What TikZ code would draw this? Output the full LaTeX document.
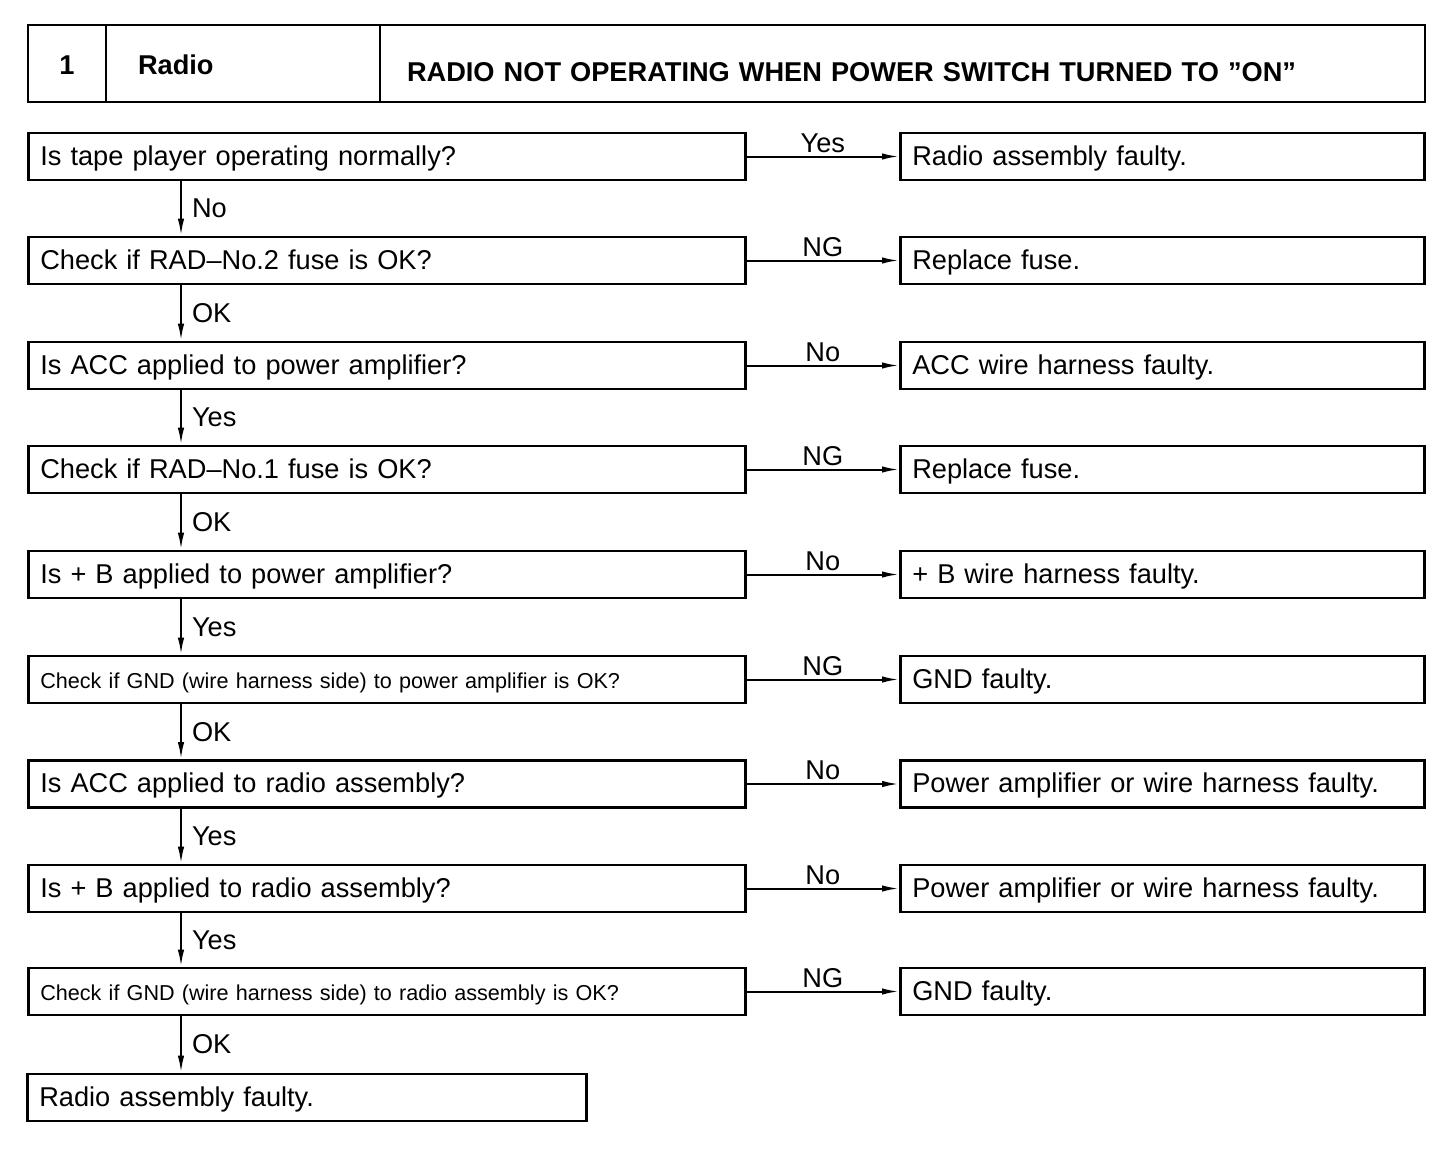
\documentclass[tikz,border=0pt]{standalone}
\usepackage{fontspec}
\setmainfont{Liberation Sans}
\usetikzlibrary{arrows.meta,positioning}
\tikzset{
  >={Latex[length=8.5pt,width=3.2pt]},
  every picture/.style={line width=1pt},
  txt/.style={font=\fontsize{13.6}{16}\selectfont},
  sml/.style={font=\fontsize{10.8}{13}\selectfont},
  bx/.style={draw,line width=1.3pt,minimum height=23.5pt,inner ysep=0pt,inner xsep=6pt,
    text height=11pt,text depth=2.5pt,anchor=west,align=left,txt},
  qbx/.style={bx,text width=346.5pt},
  rbx/.style={bx,text width=250pt},
  hcell/.style={draw,line width=1.3pt,outer sep=0pt,minimum height=38.5pt,inner ysep=0pt,
    font=\fontsize{13.6}{16}\selectfont\bfseries},
  lab/.style={txt,inner sep=1.5pt},
  vlab/.style={lab,inner xsep=5pt},
}

\begin{document}
\begin{tikzpicture}[x=0.5pt,y=-0.5pt]
  \useasboundingbox (0,0) rectangle (1456,1156);
  % title bar
  \node[hcell,anchor=west,minimum width=39pt,align=center,text height=12pt,text depth=0.5pt] (hnum) at (28,63.5) {1};
  \node[hcell,right=0pt of hnum,inner xsep=16pt,text width=105pt,align=left,text height=12pt,text depth=0.5pt] (hname) {Radio};
  \node[hcell,right=0pt of hname,inner xsep=13.5pt,text width=495.5pt,align=left,text height=19pt,text depth=0.5pt] (htitle) {RADIO NOT OPERATING WHEN POWER SWITCH TURNED TO ”ON”};
  % checks
  \node[qbx] (q1) at (27,156.5) {Is tape player operating normally?};
  \node[qbx] (q2) at (27,260.5) {Check if RAD--No.2 fuse is OK?};
  \node[qbx] (q3) at (27,365.5) {Is ACC applied to power amplifier?};
  \node[qbx] (q4) at (27,469.5) {Check if RAD--No.1 fuse is OK?};
  \node[qbx] (q5) at (27,574.5) {Is + B applied to power amplifier?};
  \node[qbx,sml] (q6) at (27,679.5) {Check if GND (wire harness side) to power amplifier is OK?};
  \node[qbx] (q7) at (27,784) {Is ACC applied to radio assembly?};
  \node[qbx] (q8) at (27,888.5) {Is + B applied to radio assembly?};
  \node[qbx,sml] (q9) at (27,991.5) {Check if GND (wire harness side) to radio assembly is OK?};
  \node[bx,text width=267.5pt] (fin) at (26,1097.5) {Radio assembly faulty.};
  % results
  \node[rbx] (r1) at (899,156.5) {Radio assembly faulty.};
  \node[rbx] (r2) at (899,260.5) {Replace fuse.};
  \node[rbx] (r3) at (899,365.5) {ACC wire harness faulty.};
  \node[rbx] (r4) at (899,469.5) {Replace fuse.};
  \node[rbx] (r5) at (899,574.5) {+ B wire harness faulty.};
  \node[rbx] (r6) at (899,679.5) {GND faulty.};
  \node[rbx] (r7) at (899,784) {Power amplifier or wire harness faulty.};
  \node[rbx] (r8) at (899,888.5) {Power amplifier or wire harness faulty.};
  \node[rbx] (r9) at (899,991.5) {GND faulty.};
  % connectors
  \coordinate (vx) at (181,0);
  \foreach \i/\t in {1/Yes,2/NG,3/No,4/NG,5/No,6/NG,7/No,8/No,9/NG}
    \draw[->] (q\i) -- node[lab,above]{\t} (r\i);
  \foreach \a/\b/\t in {q1/q2/No,q2/q3/OK,q3/q4/Yes,q4/q5/OK,q5/q6/Yes,q6/q7/OK,q7/q8/Yes,q8/q9/Yes,q9/fin/OK}
    \draw[->] (\a.south -| vx) -- node[vlab,right]{\t} (\b.north -| vx);
\end{tikzpicture}
\end{document}
